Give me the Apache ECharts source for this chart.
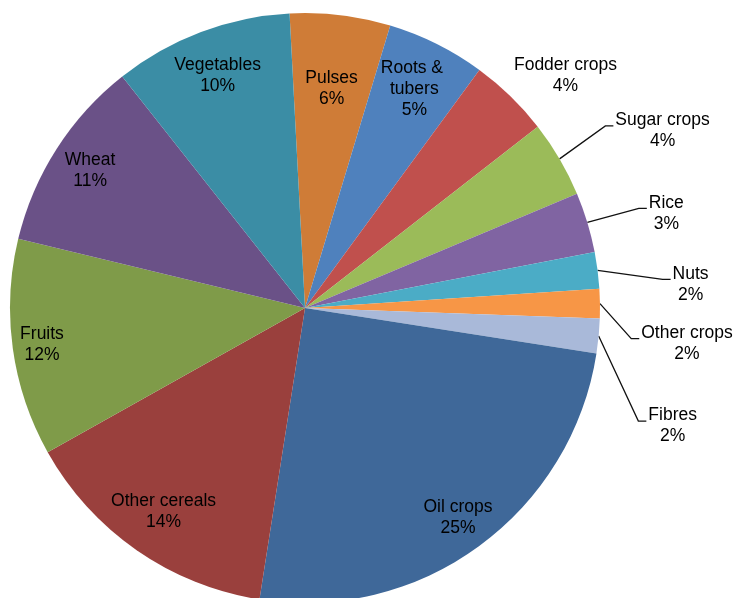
<!DOCTYPE html>
<html><head><meta charset="utf-8">
<script src="https://cdn.jsdelivr.net/npm/echarts@6/dist/echarts.min.js"></script>
<style>html,body{margin:0;padding:0;background:#fff}#main{width:734px;height:598px}</style>
</head><body><div id="main"></div>
<script>
// ---- data ----
const categories = ['Pulses','Roots & tubers','Fodder crops','Sugar crops','Rice','Nuts','Other crops','Fibres','Oil crops','Other cereals','Fruits','Wheat','Vegetables'];
const shares = [5.5, 5.4, 4.4, 4.2, 3.3, 2.0, 1.6, 1.9, 25.0, 14.4, 11.9, 10.6, 9.8];

// ---- style / placement config ----
const colors = ['#CF7C37','#4F81BD','#C0504D','#9BBB59','#8064A2','#4BACC6','#F79646','#A9B9D9','#3F6899','#9A403D','#7F9B49','#6A5187','#3B8DA5'];
const outsideLabelOffset = { 'Fodder crops':[55,-21], 'Sugar crops':[103,-28], 'Rice':[79,-9], 'Nuts':[93,14], 'Other crops':[87,40], 'Fibres':[74,90] };
const insideLabelRadius = { 'Pulses':0.75, 'Roots & tubers':0.83, 'Oil crops':0.88, 'Other cereals':0.84, 'Fruits':0.90, 'Wheat':0.865, 'Vegetables':0.84 };
const CX = 305, CY = 308, R = 295;

const chart = echarts.init(document.getElementById('main'), null, {renderer:'canvas'});
const data = categories.map((name, i) => {
  const item = { name: name, value: shares[i], itemStyle: { color: colors[i] } };
  if (outsideLabelOffset[name]) {
    item.label = { position: 'outside' };
    item.labelLine = { show: true, lineStyle: { opacity: name === 'Fodder crops' ? 0 : 1 } };
  } else {
    item.label = { position: 'inside' };
    item.labelLine = { show: false };
  }
  if (name === 'Roots & tubers') { item.label.width = 72; item.label.overflow = 'break'; }
  return item;
});

chart.setOption({
  backgroundColor: '#ffffff',
  animation: false,
  series: [{
    type: 'pie',
    center: [CX, CY],
    radius: [0, R],
    startAngle: 93,
    clockwise: true,
    avoidLabelOverlap: false,
    itemStyle: { borderWidth: 0 },
    label: {
      show: true,
      color: '#000',
      fontFamily: 'Liberation Sans, Arial, sans-serif',
      fontSize: 17.5,
      lineHeight: 21,
      align: 'center',
      formatter: p => p.name + '\n' + Math.round(p.percent) + '%'
    },
    labelLine: { show: true, length: 20, length2: 10, smooth: false, lineStyle: { color: '#111', width: 1.3 } },
    labelLayout: function (p) {
      const name = categories[p.dataIndex];
      const r = p.labelRect;
      const mx = r.x + r.width / 2, my = r.y + r.height / 2;
      if (insideLabelRadius[name]) {
        const dx = mx - CX, dy = my - CY, d = Math.hypot(dx, dy) || 1;
        const k = insideLabelRadius[name] * R / d;
        return { x: CX + dx * k, y: CY + dy * k, align: 'center', verticalAlign: 'middle' };
      }
      const off = outsideLabelOffset[name];
      const e = p.labelLinePoints[0];
      const lx = e[0] + off[0], ly = e[1] + off[1];
      const left = lx - r.width / 2;
      return {
        x: lx, y: ly, align: 'center', verticalAlign: 'middle',
        labelLinePoints: [[e[0], e[1]], [left - 10, ly - 5], [left - 2, ly - 5]]
      };
    },
    emphasis: { disabled: true },
    data: data
  }]
});
</script>
</body></html>
